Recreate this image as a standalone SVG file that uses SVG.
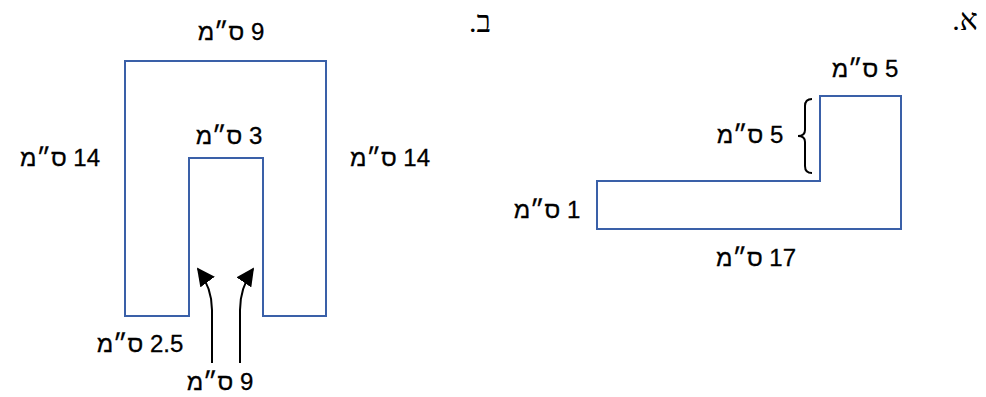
<svg xmlns="http://www.w3.org/2000/svg" width="986" height="397" viewBox="0 0 986 397">
<style>
.shape{fill:none;stroke:#3A60A8;stroke-width:2;stroke-linejoin:miter}
.lbl{font-family:"Liberation Sans","DejaVu Sans",sans-serif;font-size:24px;fill:#000;direction:rtl;unicode-bidi:embed;text-anchor:middle;stroke:#000;stroke-width:0.3}
.hd{font-family:"Liberation Serif","DejaVu Serif",serif;font-size:30px;fill:#000;direction:rtl;unicode-bidi:embed;text-anchor:middle}
.conn{fill:none;stroke:#000;stroke-width:2}
</style>
<defs>
<marker id="ah2" viewBox="0 0 10 10" refX="9" refY="5" markerWidth="18" markerHeight="18" markerUnits="userSpaceOnUse" orient="auto">
<path d="M0,0 L10,5 L0,10 z" fill="#000"/>
</marker>
</defs>
<g id="label-a"><text class="hd" x="965" y="30">א.</text></g>
<g id="label-b"><text class="hd" x="480" y="32">ב.</text></g>
<g id="shape-a">
<polygon class="shape" points="820,96 901,96 901,229 597,229 597,181 820,181"/>
</g>
<g id="shape-b">
<polygon class="shape" points="125,61 326,61 326,316 263,316 263,158 189,158 189,316 125,316"/>
</g>
<g id="connectors">
<path class="conn" d="M812,99 Q805,99 805,106 L805,130 Q805,136 798,136 Q805,136 805,142 L805,166 Q805,173 812,173" stroke-width="1.5"/>
<path class="conn" d="M212,363 L212,310 Q212,288 198,269" marker-end="url(#ah2)"/>
<path class="conn" d="M240,363 L240,310 Q240,288 253,269" marker-end="url(#ah2)"/>
</g>
<g id="labels-a">
<text class="lbl" x="865" y="77">5 ס״מ</text>
<text class="lbl" x="750" y="143">5 ס״מ</text>
<text class="lbl" x="547" y="218">1 ס״מ</text>
<text class="lbl" x="756" y="266">17 ס״מ</text>
</g>
<g id="labels-b">
<text class="lbl" x="231" y="40">9 ס״מ</text>
<text class="lbl" x="229" y="144">3 ס״מ</text>
<text class="lbl" x="60" y="166">14 ס״מ</text>
<text class="lbl" x="390" y="166">14 ס״מ</text>
<text class="lbl" x="140" y="352">2.5 ס״מ</text>
<text class="lbl" x="220" y="390">9 ס״מ</text>
</g>
</svg>
